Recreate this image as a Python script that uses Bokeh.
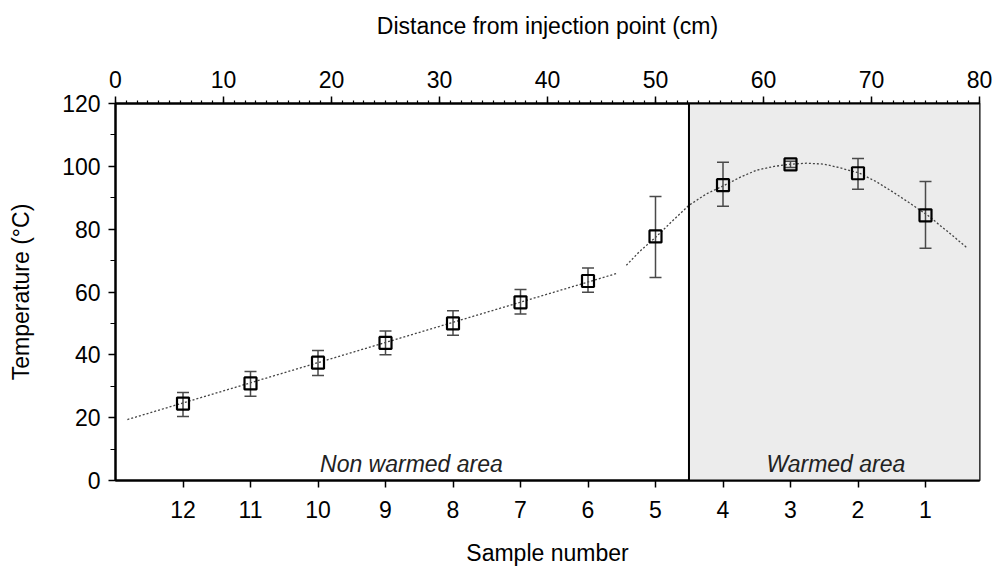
from bokeh.plotting import figure
from bokeh.models import (Range1d, LinearAxis, SingleIntervalTicker, FixedTicker,
                          BoxAnnotation, Span)
from bokeh.core.properties import value
from bokeh.embed import file_html
from bokeh.resources import INLINE

# ---- data ----
samples = [12, 11, 10, 9, 8, 7, 6, 5, 4, 3, 2, 1]
temp = [24.5, 30.9, 37.5, 43.8, 50.0, 56.7, 63.5, 77.7, 94.0, 100.6, 97.8, 84.4]
err_low = [20.4, 26.8, 33.4, 40.0, 46.2, 53.0, 59.9, 64.6, 87.3, 99.6, 92.7, 73.9]
err_high = [28.0, 34.7, 41.4, 47.6, 54.0, 60.8, 67.6, 90.4, 101.3, 101.6, 102.5, 95.2]

# fitted curves (distance in cm, temperature)
lin_cm = [1.1, 46.5]
lin_t = [19.4, 66.0]
fit_cm = [47.3, 48.5, 50.1, 51.5, 53.1, 54.7, 56.4, 58.0, 59.4, 61.0, 62.6,
          64.0, 65.6, 67.0, 68.9, 70.5, 72.0, 73.5, 75.2, 77.0, 78.8]
fit_t = [68.5, 72.8, 77.7, 82.4, 87.6, 91.2, 94.0, 96.8, 98.8, 100.0, 100.7,
         101.0, 100.7, 99.6, 97.8, 95.0, 91.8, 88.4, 84.4, 79.4, 74.2]

warm_start_cm = 53.1
labels = ["Non warmed area", "Warmed area"]
label_cm = [27.4, 66.7]
label_t = [5.4, 5.4]

FONT = "Liberation Sans"

p = figure(width=998, height=569, x_range=Range1d(0, 80), y_range=Range1d(0, 120),
           x_axis_location="above", output_backend="svg", toolbar_location=None,
           min_border_left=115, min_border_right=19, min_border_top=103,
           min_border_bottom=89)
p.extra_x_ranges = {"samples": Range1d(13, 0.2)}
p.xgrid.visible = False
p.ygrid.visible = False
p.outline_line_color = "black"
p.outline_line_width = 2
p.background_fill_color = "white"

# warmed area shading
p.add_layout(BoxAnnotation(left=warm_start_cm, right=80, fill_color="#ececec",
                           fill_alpha=1, line_alpha=0, level="underlay"))
p.add_layout(Span(location=warm_start_cm, dimension="height", line_color="black",
                  line_width=2))

# fitted dashed curves
p.line(lin_cm, lin_t, line_color="#444444", line_width=1.3, line_dash="2 2")
p.line(fit_cm, fit_t, line_color="#444444", line_width=1.3, line_dash="2 2")

# error bars
p.segment(x0=samples, y0=err_low, x1=samples, y1=err_high, line_color="#4a4a4a",
          line_width=1.5, x_range_name="samples")
p.scatter(samples, err_low, marker="dash", size=12, line_color="#4a4a4a",
          line_width=1.5, x_range_name="samples")
p.scatter(samples, err_high, marker="dash", size=12, line_color="#4a4a4a",
          line_width=1.5, x_range_name="samples")

# markers
p.scatter(samples, temp, marker="square", size=12, fill_alpha=0,
          line_color="black", line_width=2.2, x_range_name="samples")

# area labels
p.text(label_cm, label_t, text=labels, text_font=value(FONT), text_font_size="23px",
       text_font_style="italic", text_align="center", text_baseline="middle",
       text_color="#222222")

def style_axis(ax):
    ax.axis_line_color = "black"
    ax.axis_line_width = 2
    ax.major_tick_line_color = "black"
    ax.minor_tick_line_color = "black"
    ax.major_tick_line_width = 1.5
    ax.minor_tick_line_width = 1.2
    ax.major_label_text_font = FONT
    ax.major_label_text_font_size = "23px"
    ax.major_label_text_color = "black"
    ax.axis_label_text_font = FONT
    ax.axis_label_text_font_size = "23px"
    ax.axis_label_text_font_style = "normal"
    ax.axis_label_text_color = "black"

# top axis: distance
top = p.xaxis[0]
style_axis(top)
top.axis_label = "Distance from injection point (cm)"
top.ticker = SingleIntervalTicker(interval=10, num_minor_ticks=10)
top.major_tick_out = 7
top.major_tick_in = 0
top.minor_tick_out = 3
top.minor_tick_in = 0
top.major_label_standoff = 9
top.axis_label_standoff = 29

# left axis: temperature
left = p.yaxis[0]
style_axis(left)
left.axis_label = "Temperature (°C)"
left.ticker = SingleIntervalTicker(interval=20, num_minor_ticks=2)
left.major_tick_out = 7
left.major_tick_in = 0
left.minor_tick_out = 5
left.minor_tick_in = 0
left.major_label_standoff = 8
left.axis_label_standoff = 25

# bottom axis: sample number
bottom = LinearAxis(x_range_name="samples", axis_label="Sample number")
style_axis(bottom)
bottom.ticker = FixedTicker(ticks=samples, minor_ticks=[])
bottom.major_tick_out = 7
bottom.major_tick_in = 0
bottom.major_label_standoff = 13
bottom.axis_label_standoff = 19
p.add_layout(bottom, "below")

open("out.html", "w").write(file_html(p, INLINE))
